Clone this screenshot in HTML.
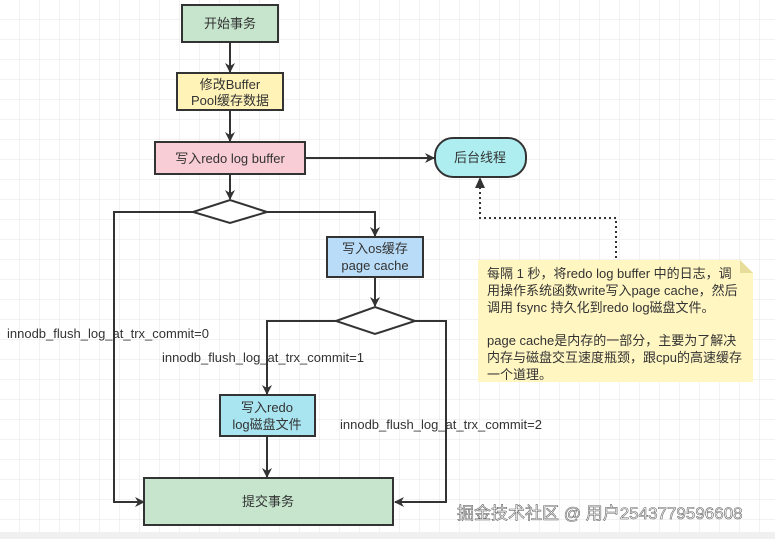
<!DOCTYPE html>
<html><head><meta charset="utf-8"><style>
html,body{margin:0;padding:0;width:775px;height:539px;overflow:hidden;background:#fff}
svg{display:block}
text{font-family:"Liberation Sans","Noto Sans CJK SC",sans-serif;fill:#333}
</style></head><body>
<svg width="775" height="539" viewBox="0 0 775 539" xmlns="http://www.w3.org/2000/svg">
<defs>
<pattern id="g" width="20" height="20" patternUnits="userSpaceOnUse">
<path d="M20 0V20M0 20H20" stroke="#e4e4e4" stroke-width="1" fill="none"/>
</pattern>
<marker id="a" markerWidth="10" markerHeight="10" refX="9" refY="5" orient="auto" markerUnits="userSpaceOnUse">
<path d="M0,0 L10,5 L0,10 L3,5 z" fill="#333"/>
</marker>
</defs>
<rect width="775" height="532" fill="url(#g)"/>
<rect y="532" width="775" height="7" fill="#f0f0f0"/>
<g stroke="#333" stroke-width="2" fill="none">
<line x1="230" y1="42" x2="230" y2="72" marker-end="url(#a)"/>
<line x1="230" y1="110" x2="230" y2="141" marker-end="url(#a)"/>
<line x1="305" y1="158" x2="434" y2="158" marker-end="url(#a)"/>
<line x1="230" y1="174" x2="230" y2="199" marker-end="url(#a)"/>
<polyline points="193,212 114,212 114,502 144,502" marker-end="url(#a)"/>
<polyline points="267,212 375,212 375,236" marker-end="url(#a)"/>
<line x1="375" y1="277" x2="375" y2="306" marker-end="url(#a)"/>
<polyline points="336,321 267,321 267,394" marker-end="url(#a)"/>
<polyline points="415,321 446,321 446,502 395,502" marker-end="url(#a)"/>
<line x1="267" y1="436" x2="267" y2="477" marker-end="url(#a)"/>
</g>
<polyline points="616,258 616,218 480,218 480,181" stroke="#333" stroke-width="2" stroke-dasharray="2,3" fill="none"/>
<path d="M480,177 L475,188 L485,188 z" fill="#333"/>
<g stroke="#333" stroke-width="2">
<rect x="182" y="5" width="96" height="37" fill="#c6e5cc"/>
<rect x="177" y="73" width="106" height="37" fill="#fff3b8"/>
<rect x="155" y="142" width="150" height="32" fill="#f9cdd5"/>
<rect x="435" y="138" width="91" height="39" rx="18" fill="#aeeef1"/>
<polygon points="193,212 230,200 267,212 230,223" fill="#fff"/>
<rect x="327" y="237" width="96" height="40" fill="#b9ddf8"/>
<polygon points="336,321 375,307 415,321 375,334" fill="#fff"/>
<rect x="220" y="395" width="95" height="41" fill="#a9e5f0"/>
<rect x="144" y="478" width="249" height="47" fill="#c6e5cc"/>
</g>
<path d="M478,260 H740 L753,273 V382 H478 Z" fill="#fff6c2"/>
<path d="M740,260 L753,273 H740 Z" fill="#e8dc9a"/>
<g font-size="13" text-anchor="middle">
<text x="230" y="28">开始事务</text>
<text x="230" y="89">修改Buffer</text>
<text x="230" y="105">Pool缓存数据</text>
<text x="230" y="163">写入redo log buffer</text>
<text x="480" y="162">后台线程</text>
<text x="375" y="253">写入os缓存</text>
<text x="375" y="270">page cache</text>
<text x="267" y="412">写入redo</text>
<text x="267" y="429">log磁盘文件</text>
<text x="268" y="506">提交事务</text>
</g>
<g font-size="13">
<text x="7" y="338">innodb_flush_log_at_trx_commit=0</text>
<text x="162" y="362">innodb_flush_log_at_trx_commit=1</text>
<text x="340" y="429">innodb_flush_log_at_trx_commit=2</text>
<text x="487" y="278">每隔 1 秒，将redo log buffer 中的日志，调</text>
<text x="487" y="295">用操作系统函数write写入page cache，然后</text>
<text x="487" y="312">调用 fsync 持久化到redo log磁盘文件。</text>
<text x="487" y="345">page cache是内存的一部分，主要为了解决</text>
<text x="487" y="362">内存与磁盘交互速度瓶颈，跟cpu的高速缓存</text>
<text x="487" y="379">一个道理。</text>
</g>
<text x="457" y="519" font-size="17" style="fill:#fff;stroke:#666;stroke-width:0.6">掘金技术社区 @ 用户2543779596608</text>
</svg>
</body></html>
